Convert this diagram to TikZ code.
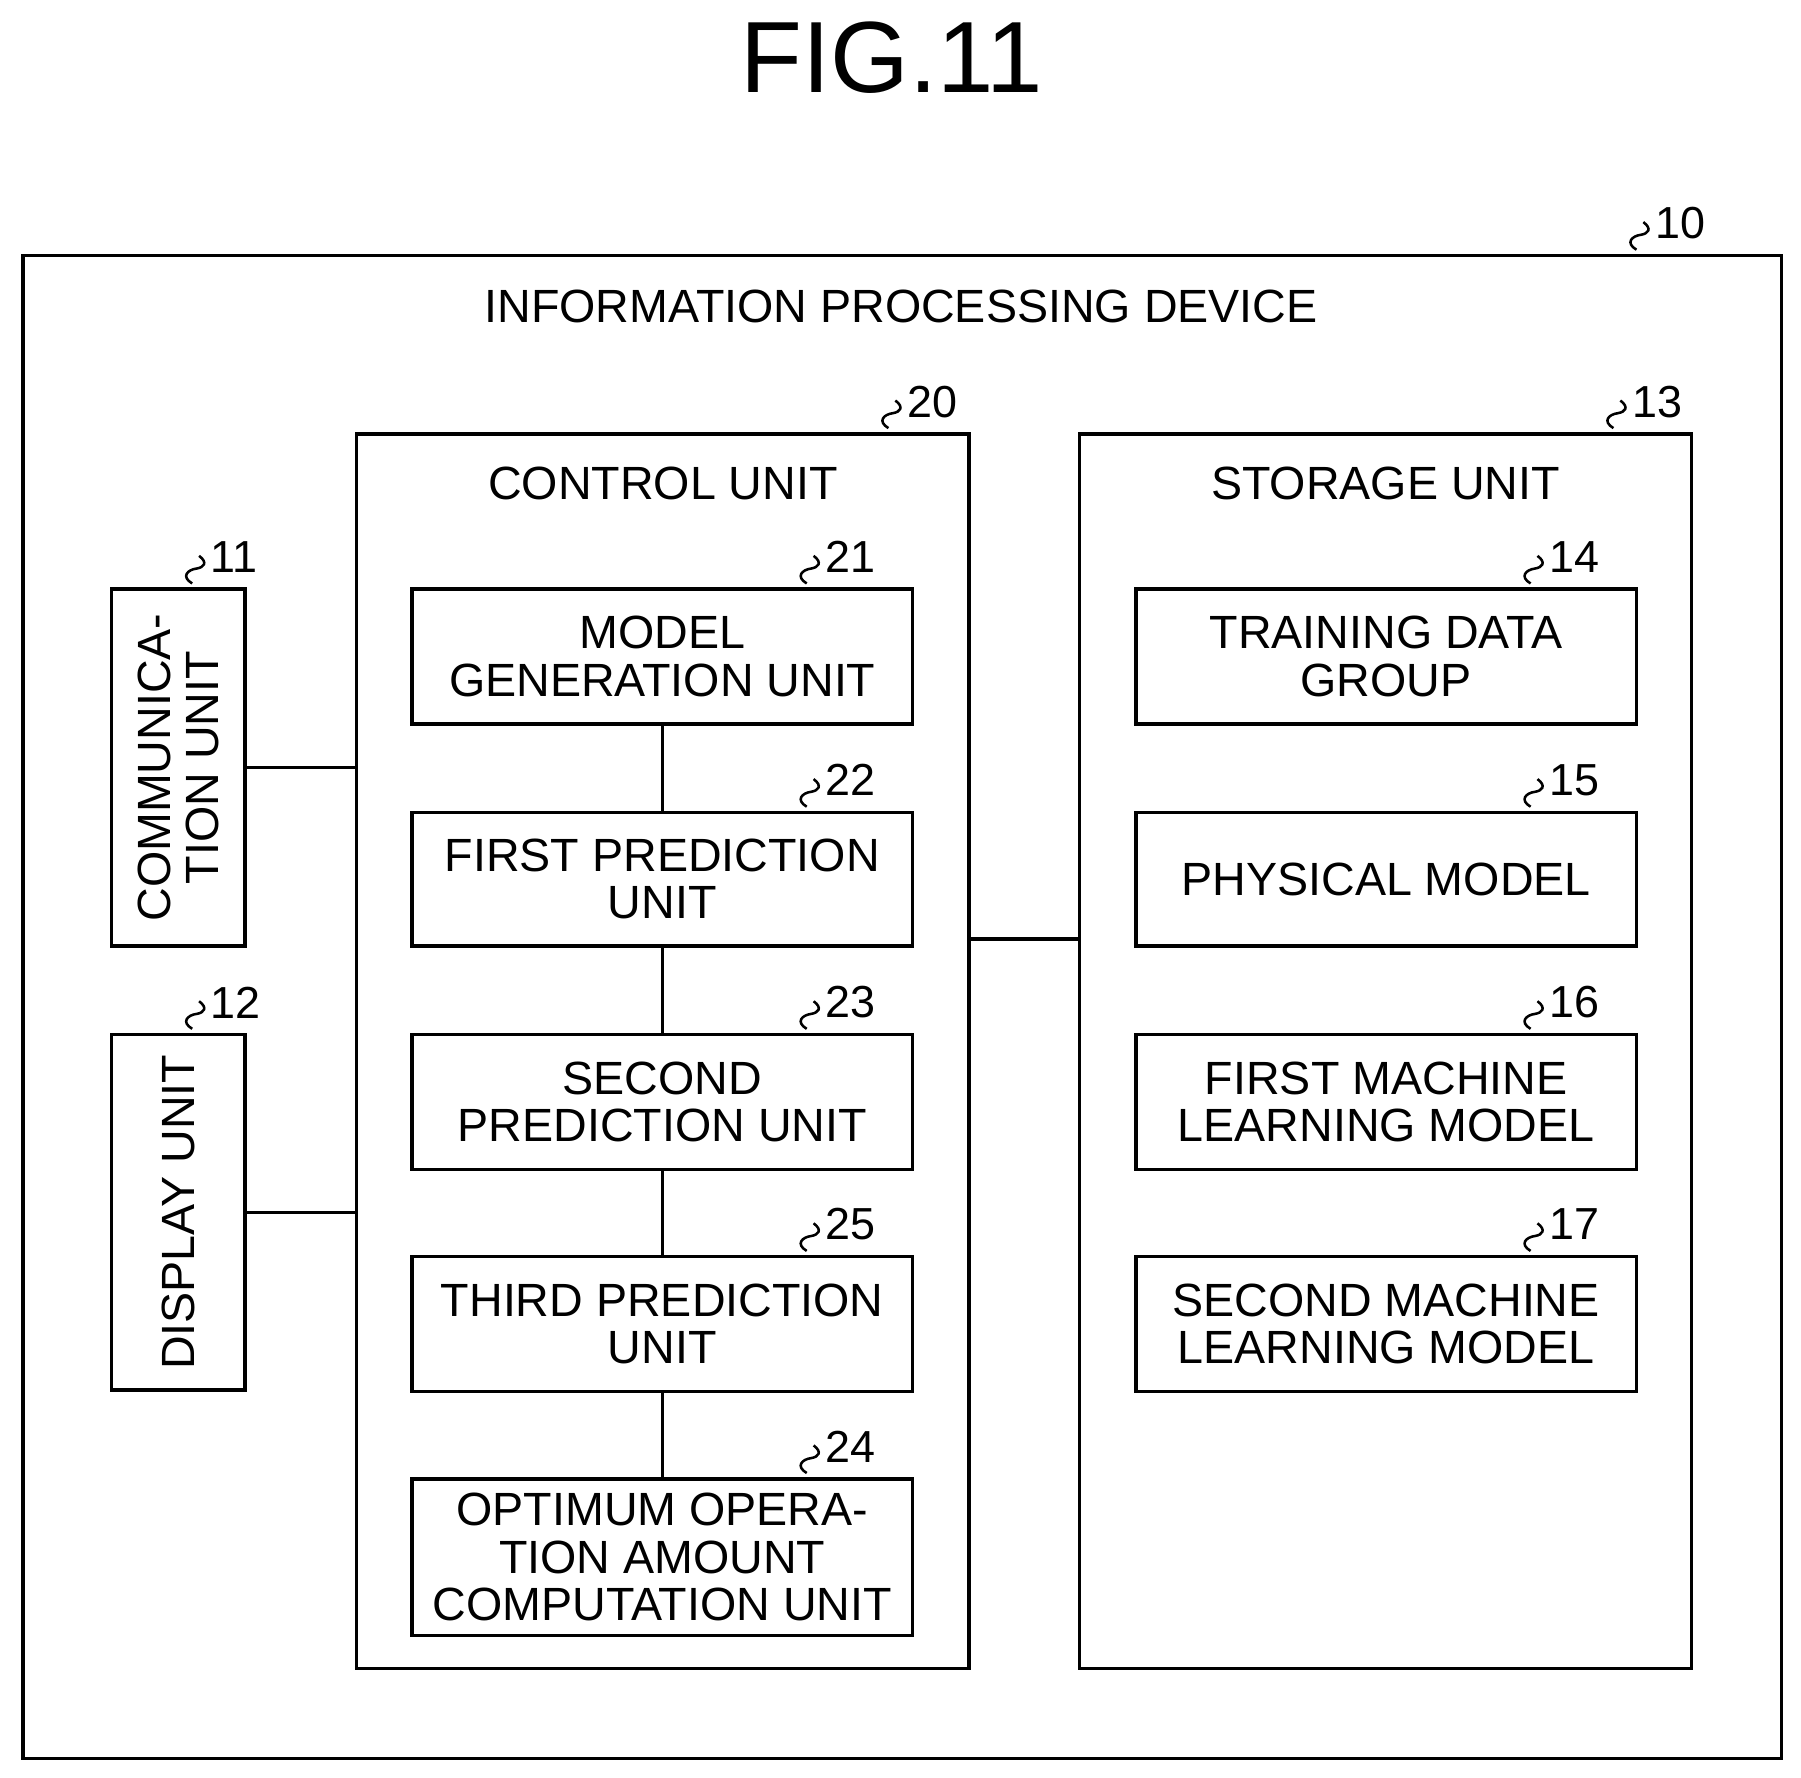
\documentclass[tikz,border=0pt]{standalone}
\usepackage{fontspec}
\setmainfont{Liberation Sans}
\begin{document}
\begin{tikzpicture}[x=1pt,y=-1pt,
  box/.style={draw,line width=3pt,inner sep=0pt},
  txt/.style={font=\fontsize{40.5}{41}\selectfont,align=center,inner sep=0pt},
  num/.style={font=\fontsize{39}{40}\selectfont,anchor=west,inner sep=0pt},
  ln/.style={line width=3pt}]
\useasboundingbox (0,0) rectangle (1565,1545);
\newcommand\sq[3]{% x y text  (x,y) = bottom of squiggle
  \draw[line width=2.2pt] (#1,#2) .. controls (#1-10,#2-6) and (#1-4,#2-12) .. (#1+4,#2-13)
     .. controls (#1+10,#2-14) and (#1+14,#2-18) .. (#1+6,#2-24);
  \node[num] at (#1+16,#2-23) {#3};}
\node[font=\fontsize{88}{90}\selectfont,inner sep=0pt] (title) at (775,50) {FIG.11};
\node[box,minimum width=1528pt,minimum height=1306pt] (dev) at (784,875) {};
\sq{1422}{217}{10}
\node[txt] (devt) at (783,266) {INFORMATION PROCESSING DEVICE};
\node[box,minimum width=532pt,minimum height=1073pt] (ctrl) at (576,913.5) {};
\sq{772}{372}{20}
\node[txt] at (576,420) {CONTROL UNIT};
\node[box,minimum width=532pt,minimum height=1073pt] (stor) at (1204,913.5) {};
\sq{1402}{372}{13}
\node[txt] at (1204,420) {STORAGE UNIT};
\node[box,minimum width=116pt,minimum height=310pt] (comm) at (155,667) {};
\node[txt,rotate=90] at (155,667) {COMMUNICA-\\TION UNIT};
\sq{167}{507}{11}
\node[box,minimum width=116pt,minimum height=309pt] (disp) at (155,1053.5) {};
\node[txt,rotate=90] at (155,1053.5) {DISPLAY UNIT};
\sq{167}{894}{12}
\node[box,minimum width=435pt,minimum height=117pt,txt] (m21) at (575.5,570.5) {MODEL\\GENERATION UNIT};
\sq{701}{507}{21}
\node[box,minimum width=435pt,minimum height=116pt,txt] (m22) at (575.5,764) {FIRST PREDICTION\\UNIT};
\sq{701}{701}{22}
\node[box,minimum width=435pt,minimum height=117pt,txt] (m23) at (575.5,957.5) {SECOND\\PREDICTION UNIT};
\sq{701}{894}{23}
\node[box,minimum width=435pt,minimum height=117pt,txt] (m25) at (575.5,1150.5) {THIRD PREDICTION\\UNIT};
\sq{701}{1087}{25}
\node[box,minimum width=435pt,minimum height=136pt,txt] (m24) at (575.5,1353) {OPTIMUM OPERA-\\TION AMOUNT\\COMPUTATION UNIT};
\sq{701}{1280}{24}
\node[box,minimum width=435pt,minimum height=117pt,txt] (s14) at (1204.5,570.5) {TRAINING DATA\\GROUP};
\sq{1330}{507}{14}
\node[box,minimum width=435pt,minimum height=116pt,txt] (s15) at (1204.5,764) {PHYSICAL MODEL};
\sq{1330}{701}{15}
\node[box,minimum width=435pt,minimum height=117pt,txt] (s16) at (1204.5,957.5) {FIRST MACHINE\\LEARNING MODEL};
\sq{1330}{894}{16}
\node[box,minimum width=435pt,minimum height=117pt,txt] (s17) at (1204.5,1150.5) {SECOND MACHINE\\LEARNING MODEL};
\sq{1330}{1087}{17}
\draw[ln] (m21.south) -- (m22.north);
\draw[ln] (m22.south) -- (m23.north);
\draw[ln] (m23.south) -- (m25.north);
\draw[ln] (m25.south) -- (m24.north);
\draw[ln] (comm.east) -- (comm.east -| ctrl.west);
\draw[ln] (disp.east) -- (disp.east -| ctrl.west);
\draw[ln] (ctrl.east |- 0,816) -- (stor.west |- 0,816);
\end{tikzpicture}
\end{document}
